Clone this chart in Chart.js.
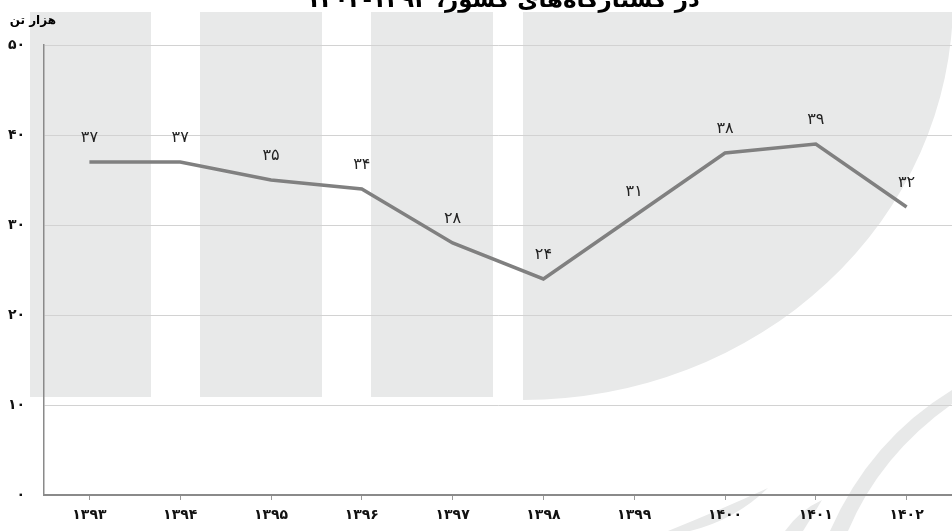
<!DOCTYPE html>
<html>
<head>
<meta charset="utf-8">
<script src="https://cdn.jsdelivr.net/npm/chart.js@4"></script>
<style>
  body { margin: 0; background: #fff; }
  #wrap { width: 952px; height: 531px; }
</style>
</head>
<body>
<div id="wrap"><canvas id="chart" width="952" height="531"></canvas></div>
<script>
// داده‌ها
const years = ['۱۳۹۳', '۱۳۹۴', '۱۳۹۵', '۱۳۹۶', '۱۳۹۷', '۱۳۹۸', '۱۳۹۹', '۱۴۰۰', '۱۴۰۱', '۱۴۰۲'];
const values = [37, 37, 35, 34, 28, 24, 31, 38, 39, 32];
const yTickLabels = ['۰', '۱۰', '۲۰', '۳۰', '۴۰', '۵۰'];
const titleText = 'در کشتارگاه‌های کشور، ۱۳۹۳-۱۴۰۲';
const unitText = 'هزار تن';

const FONT = 'DejaVu Sans';
const faDigits = n => String(n).replace(/\d/g, d => '۰۱۲۳۴۵۶۷۸۹'[d]);

// واترمارک پس‌زمینه
const watermark = {
  id: 'watermark',
  beforeDraw(chart) {
    const ctx = chart.ctx;
    ctx.save();
    ctx.fillStyle = '#fff';
    ctx.fillRect(0, 0, chart.width, chart.height);
    ctx.fillStyle = '#e8e9e9';
    ctx.fillRect(30, 12, 121, 385);
    ctx.fillRect(200, 12, 122, 385);
    ctx.fillRect(371, 12, 122, 385);
    ctx.beginPath();
    ctx.moveTo(523, 12);
    ctx.lineTo(523, 400);
    ctx.ellipse(523, 0, 430, 400, 0, Math.PI / 2, 0, true);
    ctx.lineTo(952, 12);
    ctx.closePath();
    ctx.fill();
    // خطوط منحنی پایین
    ctx.beginPath();
    ctx.moveTo(830, 531);
    ctx.quadraticCurveTo(870, 440, 952, 390);
    ctx.lineTo(952, 404);
    ctx.quadraticCurveTo(880, 455, 848, 531);
    ctx.closePath();
    ctx.fill();
    ctx.beginPath();
    ctx.moveTo(668, 531);
    ctx.quadraticCurveTo(720, 510, 768, 488);
    ctx.quadraticCurveTo(735, 520, 690, 531);
    ctx.closePath();
    ctx.fill();
    ctx.beginPath();
    ctx.moveTo(785, 531);
    ctx.quadraticCurveTo(800, 510, 822, 500);
    ctx.quadraticCurveTo(810, 520, 803, 531);
    ctx.closePath();
    ctx.fill();
    ctx.restore();
  }
};

// عنوان، واحد و برچسب مقادیر
const texts = {
  id: 'texts',
  afterDatasetsDraw(chart) {
    const ctx = chart.ctx;
    ctx.save();
    ctx.direction = 'rtl';
    ctx.fillStyle = '#000';
    ctx.textAlign = 'center';
    ctx.font = 'bold 23px "' + FONT + '"';
    ctx.fillText(titleText, 503, 7);
    ctx.textAlign = 'right';
    ctx.font = 'bold 12px "' + FONT + '"';
    ctx.fillText(unitText, 56, 24);

    ctx.textAlign = 'center';
    ctx.font = '16px "' + FONT + '"';
    ctx.fillStyle = '#222';
    chart.getDatasetMeta(0).data.forEach((pt, i) => {
      ctx.fillText(faDigits(values[i]), pt.x, pt.y - 20);
    });
    ctx.restore();
  }
};

new Chart(document.getElementById('chart'), {
  type: 'line',
  data: {
    labels: years,
    datasets: [{
      data: values,
      borderColor: '#808080',
      borderWidth: 3.5,
      pointRadius: 0,
      tension: 0,
      fill: false
    }]
  },
  options: {
    responsive: false,
    animation: false,
    layout: { padding: { top: 45, right: -8, left: 0, bottom: 0 } },
    plugins: { legend: { display: false }, tooltip: { enabled: false } },
    scales: {
      x: {
        offset: true,
        grid: {
          offset: false,
          drawOnChartArea: false,
          tickLength: 5,
          color: '#999'
        },
        border: { color: '#8a8a8a', width: 2 },
        ticks: {
          padding: 7,
          color: '#111',
          font: { family: FONT, size: 14, weight: 'bold' },
          maxRotation: 0
        },
        afterFit(scale) { scale.height = 36; }
      },
      y: {
        min: 0,
        max: 50,
        grid: { color: '#d2d2d2', lineWidth: 1, drawTicks: false },
        border: { color: '#8a8a8a', width: 1.5 },
        ticks: {
          stepSize: 10,
          padding: 19,
          color: '#111',
          font: { family: FONT, size: 14, weight: 'bold' },
          callback: v => yTickLabels[v / 10]
        },
        afterFit(scale) { scale.width = 44; }
      }
    }
  },
  plugins: [watermark, texts]
});
</script>
</body>
</html>
